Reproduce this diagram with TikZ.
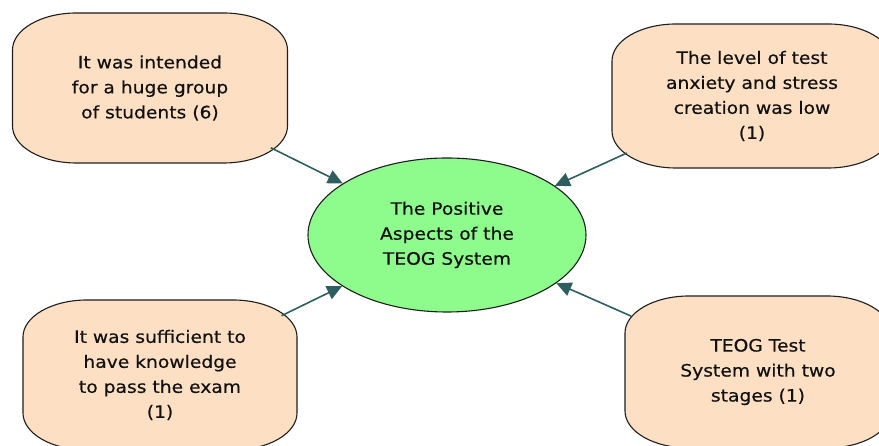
\documentclass[tikz,border=0pt]{standalone}
\usepackage{fontspec}
\setmainfont{DejaVu Sans}[FakeStretch=1.1,FakeBold=0.4]
\usetikzlibrary{shapes.geometric,arrows.meta,backgrounds}
\definecolor{peach}{HTML}{FDDFC4}
\definecolor{mint}{HTML}{8DFC8D}
\definecolor{arrowc}{HTML}{2F5E5E}
\definecolor{edgec}{HTML}{1E1E1E}
\definecolor{txtc}{HTML}{111111}
\newcommand{\drawpeachbox}[3]{%
  \begin{scope}[on background layer,shift={(#1.center)}]
    \draw[boxshape] (-#2+64,#3) -- (#2-64,#3)
      arc[start angle=90,end angle=0,x radius=64,y radius=37]
      -- (#2,-#3+37)
      arc[start angle=0,end angle=-90,x radius=64,y radius=37]
      -- (-#2+64,-#3)
      arc[start angle=270,end angle=180,x radius=64,y radius=37]
      -- (-#2,#3-37)
      arc[start angle=180,end angle=90,x radius=64,y radius=37]
      -- cycle;
  \end{scope}}
\tikzset{
  x=1pt,y=1pt,
  boxshape/.style={draw=edgec,line width=1.1pt,fill=peach},
  boxtext/.style={ellipse,draw=none,inner sep=0pt,minimum width=325pt,minimum height=178pt,
    align=center,text=txtc,font=\fontsize{17}{25}\selectfont},
  centre/.style={ellipse,draw=edgec,line width=1.1pt,fill=mint,minimum width=278pt,minimum height=154pt,
    inner sep=0pt,align=center,text=txtc,font=\fontsize{17}{25}\selectfont},
  arr/.style={draw=arrowc,line width=1.6pt,-{Triangle[length=15pt,width=14pt]}}
}
\begin{document}
\begin{tikzpicture}
\clip (0,0) rectangle (879,446);
\begin{scope}[on background layer]
  \fill[white] (0,0) rectangle (879,446);
\end{scope}
\node[centre] (e) at (447,211) {The Positive\\Aspects of the\\TEOG System};
\node[boxtext] (tl) at (150,358) {It was intended\\for a huge group\\of students (6)};
\node[boxtext] (tr) at (752,350) {The level of test\\anxiety and stress\\creation was low\\(1)};
\node[boxtext] (bl) at (160,71) {It was sufficient to\\have knowledge\\to pass the exam\\(1)};
\node[boxtext] (br) at (758,74) {TEOG Test\\System with two\\stages (1)};
\drawpeachbox{tl}{137.5}{75}
\drawpeachbox{tr}{140}{72}
\drawpeachbox{bl}{137}{75}
\drawpeachbox{br}{133}{76}
\draw[arr] (tl) -- (e);
\draw[arr] (tr) -- (e);
\draw[arr] (bl) -- (e);
\draw[arr] (br) -- (e);
\end{tikzpicture}
\end{document}
